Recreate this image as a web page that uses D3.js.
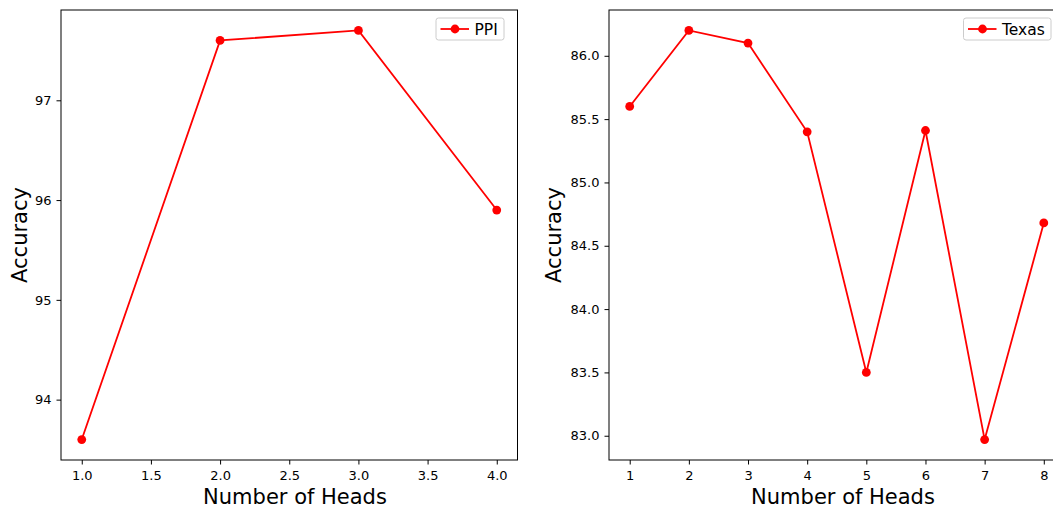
<!DOCTYPE html>
<html>
<head>
<meta charset="utf-8">
<script src="https://cdn.jsdelivr.net/npm/d3@7"></script>
<style>
  html, body { margin: 0; padding: 0; background: #fff; overflow: hidden; }
  svg text { font-family: "DejaVu Sans", "Bitstream Vera Sans", Verdana, sans-serif; fill: #000; }
</style>
</head>
<body>
<svg id="chart" width="1053" height="509"></svg>
<script>
// Data
const ppiHeads = [1, 2, 3, 4];
const ppiAcc = [93.6, 97.6, 97.7, 95.9];
const ppiXTicks = [1.0, 1.5, 2.0, 2.5, 3.0, 3.5, 4.0];
const ppiYTicks = [94, 95, 96, 97];

const texasHeads = [1, 2, 3, 4, 5, 6, 7, 8];
const texasAcc = [85.6, 86.2, 86.1, 85.4, 83.5, 85.41, 82.97, 84.68];
const texasXTicks = [1, 2, 3, 4, 5, 6, 7, 8];
const texasYTicks = [83.0, 83.5, 84.0, 84.5, 85.0, 85.5, 86.0];

const FONT = '"DejaVu Sans", "Bitstream Vera Sans", Verdana, sans-serif';
const svg = d3.select("#chart");

function panel(cfg) {
  const g = svg.append("g");
  const x = d3.scaleLinear().domain(cfg.xDomain).range([cfg.left, cfg.right]);
  const y = d3.scaleLinear().domain(cfg.yDomain).range([cfg.bottom, cfg.top]);

  const xa = g.append("g").attr("transform", `translate(0,${cfg.bottom})`)
    .call(d3.axisBottom(x).tickValues(cfg.xTicks).tickFormat(cfg.xFmt).tickSize(4.5).tickPadding(6));
  const ya = g.append("g").attr("transform", `translate(${cfg.left},0)`)
    .call(d3.axisLeft(y).tickValues(cfg.yTicks).tickFormat(cfg.yFmt).tickSize(4.5).tickPadding(5));
  [xa, ya].forEach(a => {
    a.attr("font-family", FONT).attr("font-size", 13);
    a.select(".domain").remove();
    a.selectAll("line").attr("stroke", "#000").attr("stroke-width", 1);
    a.selectAll("text").attr("fill", "#000");
  });

  g.append("rect").attr("x", cfg.left).attr("y", cfg.top)
    .attr("width", cfg.right - cfg.left).attr("height", cfg.bottom - cfg.top)
    .attr("fill", "none").attr("stroke", "#000").attr("stroke-width", 1);

  const line = d3.line().x((d, i) => x(cfg.xs[i])).y(d => y(d));
  g.append("path").datum(cfg.ys).attr("d", line)
    .attr("fill", "none").attr("stroke", "#ff0000").attr("stroke-width", 1.8);
  g.selectAll("circle.pt").data(cfg.ys).enter().append("circle")
    .attr("cx", (d, i) => x(cfg.xs[i])).attr("cy", d => y(d)).attr("r", 4.4)
    .attr("fill", "#ff0000");

  g.append("text").attr("x", cfg.xLabelX).attr("y", 504)
    .attr("text-anchor", "middle").attr("font-size", 21).text("Number of Heads");
  g.append("text")
    .attr("transform", `translate(${cfg.yLabelX},${(cfg.top + cfg.bottom) / 2}) rotate(-90)`)
    .attr("text-anchor", "middle").attr("font-size", 21).text("Accuracy");

  const lg = g.append("g");
  lg.append("rect").attr("x", cfg.legX).attr("y", 18).attr("width", cfg.legW).attr("height", 22)
    .attr("rx", 2.5).attr("fill", "#fff").attr("fill-opacity", 0.8)
    .attr("stroke", "#cccccc").attr("stroke-width", 1);
  lg.append("line").attr("x1", cfg.legX + 4.5).attr("x2", cfg.legX + 33).attr("y1", 29).attr("y2", 29)
    .attr("stroke", "#ff0000").attr("stroke-width", 1.8);
  lg.append("circle").attr("cx", cfg.legX + 19).attr("cy", 29).attr("r", 4.4).attr("fill", "#ff0000");
  lg.append("text").attr("x", cfg.legX + 38.5).attr("y", 34.7).attr("font-size", 15.5).text(cfg.name);
}

panel({
  name: "PPI", xs: ppiHeads, ys: ppiAcc,
  left: 61, right: 517.5, top: 10, bottom: 460,
  xDomain: [0.85, 4.15], yDomain: [93.395, 97.905],
  xTicks: ppiXTicks, yTicks: ppiYTicks,
  xFmt: d3.format(".1f"), yFmt: d3.format("d"),
  xLabelX: 295, yLabelX: 27, legX: 436, legW: 68
});

panel({
  name: "Texas", xs: texasHeads, ys: texasAcc,
  left: 609, right: 1064.5, top: 10, bottom: 460,
  xDomain: [0.65, 8.35], yDomain: [82.8085, 86.3615],
  xTicks: texasXTicks, yTicks: texasYTicks,
  xFmt: d3.format("d"), yFmt: d3.format(".1f"),
  xLabelX: 843, yLabelX: 561, legX: 963.5, legW: 87.5
});
</script>
</body>
</html>
